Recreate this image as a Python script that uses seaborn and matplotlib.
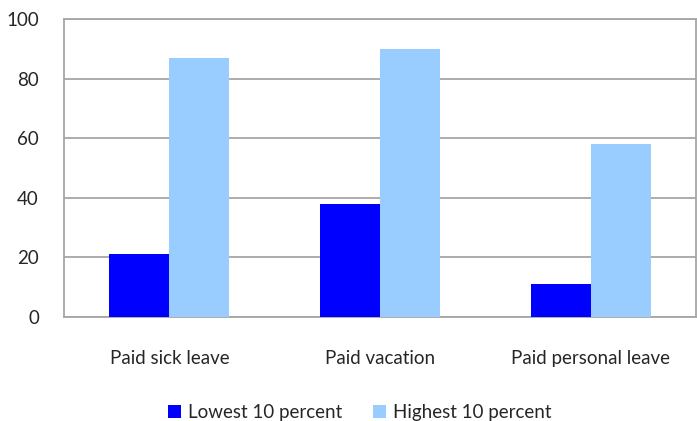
import pandas as pd
import matplotlib.pyplot as plt
import seaborn as sns

# values
categories = ["Paid sick leave", "Paid vacation", "Paid personal leave"]
lowest = [21, 38, 11]
highest = [87, 90, 58]
series_names = ["Lowest 10 percent", "Highest 10 percent"]
colors = ["#0000FF", "#99CCFF"]

df = pd.DataFrame({
    "category": categories * 2,
    "value": lowest + highest,
    "group": [series_names[0]] * 3 + [series_names[1]] * 3,
})

sns.set_style("white")
plt.rcParams["font.family"] = ["Lato", "DejaVu Sans"]

fig = plt.figure(figsize=(6.97, 4.21), dpi=100)
ax = fig.add_axes([64 / 697, 1 - 317 / 421, 632 / 697, 298 / 421])

sns.barplot(data=df, x="category", y="value", hue="group", palette=colors,
            width=0.57, saturation=1, linewidth=0, ax=ax, zorder=3)

ax.set_ylim(0, 100)
ax.set_yticks(range(0, 101, 20))
ax.yaxis.grid(True, color="#A6A6A6", linewidth=1.3, zorder=0)
ax.set_xlabel("")
ax.set_ylabel("")
for s in ax.spines.values():
    s.set_color("#A6A6A6")
    s.set_linewidth(1.3)
ax.tick_params(axis="y", length=0, labelsize=13.5, pad=18)
ax.tick_params(axis="x", length=0, labelsize=13.5, pad=24)

handles, labels = ax.get_legend_handles_labels()
ax.legend(handles, labels, loc="center", bbox_to_anchor=(0.468, -0.32),
          ncol=2, frameon=False, fontsize=13.5, handlelength=0.7,
          handleheight=0.7, handletextpad=0.4, columnspacing=1.6)

plt.savefig("out.png", dpi=100)
